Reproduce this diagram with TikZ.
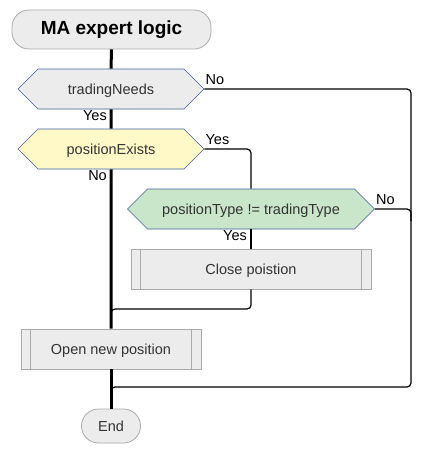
\documentclass[tikz,border=0pt]{standalone}
\usepackage{fontspec}
\setmainfont{Liberation Sans}
\usepackage{tikz}
\usetikzlibrary{shapes.symbols}

\definecolor{boxgray}{HTML}{ECECEC}
\definecolor{edgegray}{HTML}{AAAAAA}
\definecolor{hexblue}{HTML}{3F5F9C}
\definecolor{hexyellow}{HTML}{FFF9C8}
\definecolor{hexgreen}{HTML}{C9E6CA}
\definecolor{txtgray}{HTML}{333333}

\begin{document}
\begin{tikzpicture}[x=1pt, y=-1pt,
  terminal/.style = {draw=edgegray, fill=boxgray, rounded corners=17pt, line width=0.8pt,
                     font=\fontsize{14.5}{16}\selectfont, text=txtgray},
  question/.style = {shape=signal, signal to=west and east, signal pointer angle=90,
                     draw=hexblue, line width=0.6pt, minimum height=40pt,
                     font=\fontsize{14.5}{16}\selectfont, text=txtgray, inner sep=0pt,
                     text height=12pt, text depth=2pt},
  action/.style   = {draw=edgegray, fill=boxgray, line width=0.8pt, minimum height=40pt,
                     font=\fontsize{14.5}{16}\selectfont, text=txtgray, inner sep=0pt,
                     text height=12pt, text depth=2pt},
  lbl/.style      = {font=\fontsize{14.5}{16}\selectfont, inner sep=1pt},
  skewer/.style   = {line width=3pt},
  branch/.style   = {line width=1.2pt, rounded corners=4pt}]

\useasboundingbox (0,0) rectangle (429,452);

% main skewer nodes
\node[terminal, minimum width=199pt, minimum height=39pt,
      font=\fontsize{19}{22}\selectfont\bfseries, text=black] (title) at (111.5,29.5) {MA expert logic};
\node[question, fill=boxgray, minimum width=186pt] (needs) at (111,89) {tradingNeeds};
\node[question, fill=hexyellow, minimum width=186pt] (exists) at (111,149) {positionExists};
\node[question, fill=hexgreen, minimum width=247pt] (ptype) at (251,209) {positionType != tradingType};
\node[action, minimum width=240pt] (close) at (251,269) {Close poistion};
\node[action, minimum width=180pt] (open) at (111,349) {Open new position};
\node[terminal, minimum width=59pt, minimum height=34pt] (end) at (111,426) {End};

% inner bars of the action boxes
\draw[edgegray, line width=0.8pt] ([xshift=10pt]close.north west) -- ([xshift=10pt]close.south west);
\draw[edgegray, line width=0.8pt] ([xshift=-10pt]close.north east) -- ([xshift=-10pt]close.south east);
\draw[edgegray, line width=0.8pt] ([xshift=10pt]open.north west) -- ([xshift=10pt]open.south west);
\draw[edgegray, line width=0.8pt] ([xshift=-10pt]open.north east) -- ([xshift=-10pt]open.south east);

% join points
\coordinate (rightcol) at (411,0);
\coordinate (joinclose) at (111,309);
\coordinate (joinend) at (111,387);

% skewer
\draw[skewer] (title) -- (needs);
\draw[skewer] (needs) -- (exists);
\draw[skewer] (exists) -- (open);
\draw[skewer] (open) -- (end);

% branches
\draw[branch] (needs.east) -| (rightcol |- joinend) -| ([yshift=-8pt]joinend);
\draw[branch] (exists.east) -| (ptype.north);
\draw[branch] (ptype.south) -- (close.north);
\draw[branch] (close.south) |- (joinclose) -- ([yshift=-8pt]joinclose);
\draw[branch] (ptype.east) -| ([yshift=-12pt]rightcol |- ptype.east);

% labels
\node[lbl, anchor=north east] (needsyes) at ([xshift=-3pt]needs.south) {Yes};
\node[lbl, anchor=south west] (needsno) at ([yshift=3pt]needs.east) {No};
\node[lbl, anchor=south west] (existsyes) at ([yshift=3pt]exists.east) {Yes};
\node[lbl, anchor=north east] (existsno) at ([xshift=-3pt]exists.south) {No};
\node[lbl, anchor=north east] (ptypeyes) at ([xshift=-3pt]ptype.south) {Yes};
\node[lbl, anchor=south west] (ptypeno) at ([yshift=3pt]ptype.east) {No};

\end{tikzpicture}
\end{document}
